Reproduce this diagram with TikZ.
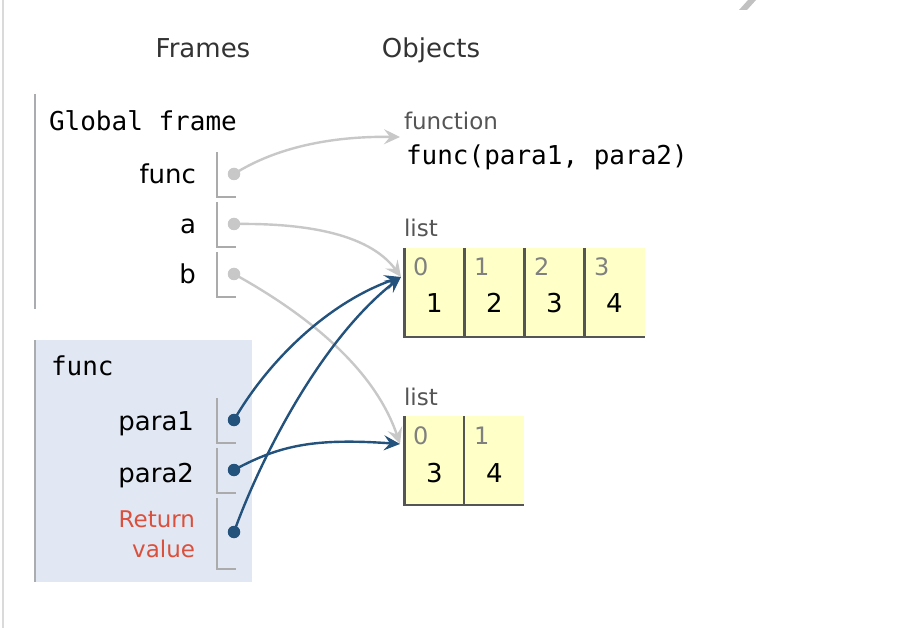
\documentclass[tikz,border=0pt]{standalone}
\usepackage{fontspec}
\setmainfont{DejaVu Sans}
\newfontfamily\monof{DejaVu Sans Mono}
\usetikzlibrary{arrows.meta}
\definecolor{pageline}{HTML}{DADADA}
\definecolor{frameline}{HTML}{A9ADB0}
\definecolor{cellgrey}{HTML}{ABABAB}
\definecolor{framefill}{HTML}{E2E8F3}
\definecolor{lightptr}{HTML}{C8C8C8}
\definecolor{blueptr}{RGB}{35,82,124}
\definecolor{retred}{RGB}{219,80,60}
\definecolor{listfill}{HTML}{FFFFC8}
\definecolor{listline}{HTML}{555555}
\definecolor{idxgrey}{HTML}{808080}
\definecolor{headtxt}{HTML}{333333}
\definecolor{objlbl}{HTML}{555555}
\tikzset{
  txt/.style={inner sep=0pt, outer sep=0pt, font=\fontsize{26}{30}\selectfont},
  head/.style={txt, text=headtxt, anchor=base},
  monotxt/.style={inner sep=0pt, outer sep=0pt, font=\monof\fontsize{26}{30}\selectfont, anchor=base west},
  varname/.style={txt, anchor=base east},
  retname/.style={inner sep=0pt, outer sep=0pt, font=\fontsize{23}{30}\selectfont, text=retred, anchor=base east},
  objlabel/.style={inner sep=0pt, outer sep=0pt, font=\fontsize{23}{28}\selectfont, text=objlbl, anchor=base west},
  cellbr/.style={draw=cellgrey, line width=2pt},
  listcell/.style={fill=listfill, draw=none, minimum width=60pt, minimum height=89pt, inner sep=0pt, outer sep=0pt},
  listedge/.style={draw=listline, line width=2.2pt},
  idx/.style={inner sep=0pt, font=\fontsize{24}{28}\selectfont, text=idxgrey, anchor=base west},
  val/.style={inner sep=0pt, font=\fontsize{26}{30}\selectfont, anchor=base},
  gdot/.style={circle, fill=lightptr, minimum size=12.5pt, inner sep=0pt},
  bdot/.style={circle, fill=blueptr, minimum size=12.5pt, inner sep=0pt},
  ptr/.style={line width=2.4pt, -{Stealth[length=16pt, width=15pt, inset=6pt]}},
  gptr/.style={ptr, draw=lightptr},
  bptr/.style={ptr, draw=blueptr},
}
\begin{document}
\begin{tikzpicture}[x=1pt, y=-1pt]
\useasboundingbox (0,0) rectangle (924,628);
\fill[white] (0,0) rectangle (924,628);
% page border and artifact
\draw[pageline, line width=2pt] (3,0) -- (3,628);
\fill[gray!80, opacity=0.6] (748,0) -- (756,0) -- (747,10) -- (739,10) -- cycle;

% headers
\node[head] (hframes) at (203,58) {Frames};
\node[head] (hobjects) at (431,58) {Objects};

% global frame
\draw[frameline, line width=2.5pt] (35,94) -- (35,309);
\node[monotxt] (gtitle) at (49,131) {Global frame};
\node[varname] (vfunc) at (196,184) {func};
\node[varname] (va) at (196,234) {a};
\node[varname] (vb) at (196,284) {b};
\draw[cellbr] (217,152) -- (217,197) -- (236,197);
\draw[cellbr] (217,202) -- (217,247) -- (236,247);
\draw[cellbr] (217,252) -- (217,297) -- (236,297);
\node[gdot] (dfunc) at (234,174) {};
\node[gdot] (da) at (234,224) {};
\node[gdot] (db) at (234,274) {};

% func frame
\fill[framefill] (34,340) rectangle (252,582);
\draw[frameline, line width=2.5pt] (35,340) -- (35,582);
\node[monotxt] (ftitle) at (51,375) {func};
\node[varname] (vp1) at (194,430) {para1};
\node[varname] (vp2) at (194,482) {para2};
\node[retname] (vret1) at (195,527) {Return};
\node[retname] (vret2) at (195,557) {value};
\draw[cellbr] (217,398) -- (217,443) -- (236,443);
\draw[cellbr] (217,448) -- (217,493) -- (236,493);
\draw[cellbr] (217,498) -- (217,569) -- (236,569);
\node[bdot] (dp1) at (234,420) {};
\node[bdot] (dp2) at (234,470) {};
\node[bdot] (dret) at (234,532) {};

% function object
\node[objlabel] (fnlbl) at (404,130) {function};
\node[monotxt] (fnsig) at (406,165) {func(para1, para2)};
\coordinate (fnin) at (400,137);

% list 1
\node[objlabel] (l1lbl) at (404,237) {list};
\node[listcell] (l1c0) at (434.5,292.5) {};
\node[listcell] (l1c1) at (494.5,292.5) {};
\node[listcell] (l1c2) at (554.5,292.5) {};
\node[listcell] (l1c3) at (614.5,292.5) {};
\draw[listedge] (l1c0.north west) -- (l1c0.south west) -- (l1c3.south east);
\draw[listedge] (l1c1.north west) -- (l1c1.south west);
\draw[listedge] (l1c2.north west) -- (l1c2.south west);
\draw[listedge] (l1c3.north west) -- (l1c3.south west);
\node[idx] (l1i0) at (413,276) {0};
\node[idx] (l1i1) at (474,276) {1};
\node[idx] (l1i2) at (534,276) {2};
\node[idx] (l1i3) at (594,276) {3};
\node[val] (l1v0) at (434.5,313) {1};
\node[val] (l1v1) at (494.5,313) {2};
\node[val] (l1v2) at (554.5,313) {3};
\node[val] (l1v3) at (614.5,313) {4};
\coordinate (l1in) at (401,277);

% list 2
\node[objlabel] (l2lbl) at (404,405) {list};
\node[listcell] (l2c0) at (434.5,460.5) {};
\node[listcell] (l2c1) at (494,460.5) {};
\draw[listedge] (l2c0.north west) -- (l2c0.south west) -- (l2c1.south east);
\draw[listedge] (l2c1.north west) -- (l2c1.south west);
\node[idx] (l2i0) at (413,444) {0};
\node[idx] (l2i1) at (474,444) {1};
\node[val] (l2v0) at (434.5,482) {3};
\node[val] (l2v1) at (494.5,482) {4};
\coordinate (l2in) at (400,444);

% pointers
\draw[gptr] (dfunc.center) .. controls (275,148) and (330,136) .. (fnin);
\draw[gptr] (da.center) .. controls (300,223) and (368,232) .. (l1in);
\draw[gptr] (db.center) .. controls (310,316) and (375,370) .. (l2in);
\draw[bptr] (dp1.center) .. controls (270,358) and (330,302) .. (l1in);
\draw[bptr] (dp2.center) .. controls (280,445) and (315,438) .. (l2in);
\draw[bptr] (dret.center) .. controls (258,465) and (318,342) .. (l1in);
\end{tikzpicture}
\end{document}
